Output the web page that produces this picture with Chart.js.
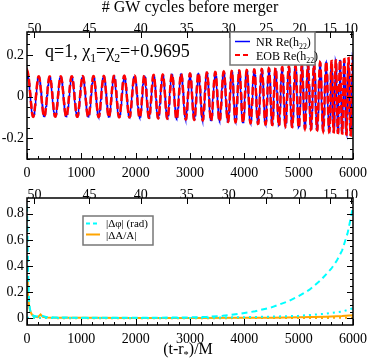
<!DOCTYPE html>
<html>
<head>
<meta charset="utf-8">
<script src="https://cdn.jsdelivr.net/npm/chart.js@4"></script>
<style>
  html, body { margin: 0; padding: 0; background: #fff; }
  #wrap { position: relative; width: 374px; height: 358px; }
  #top { position: absolute; left: 0; top: 0; }
  #bot { position: absolute; left: 0; top: 178px; }
</style>
</head>
<body>
<div id="wrap">
  <canvas id="top" width="374" height="178"></canvas>
  <canvas id="bot" width="374" height="180"></canvas>
</div>
<script>
// GW waveform NR vs EOB, q=1 spins +0.9695 - two stacked panels
const SERIF = "'Liberation Serif', 'Times New Roman', serif";

// top axis: # GW cycles before merger, placed at these times (M)
const cycleLabels = [50, 45, 40, 35, 30, 25, 20, 15, 10];
const cycleTimes  = [136, 1150, 2095, 2940, 3715, 4405, 5015, 5575, 5965];

// waveform envelope
const ampTimes  = [0, 1000, 2000, 3000, 4000, 4500, 5000, 5500, 5800, 6000];
const ampValues = [0.095, 0.097, 0.100, 0.110, 0.125, 0.135, 0.148, 0.165, 0.175, 0.185];
const phase0 = -0.39; // phase at t=0 (starts near a crest)

// bottom panel: |dphi| (rad), dashed cyan
const dphiT = [0, 8, 20, 35, 55, 80, 120, 180, 260, 350, 500, 800, 1200, 1800, 2400, 3000, 3300, 3600, 3900, 4200, 4500, 4800, 5000, 5200, 5400, 5600, 5700, 5800, 5900, 6000];
const dphiV = [0.86, 0.70, 0.35, 0.15, 0.07, 0.03, 0.02, 0.015, 0.022, 0.012, 0.008, 0.006, 0.005, 0.005, 0.006, 0.008, 0.012, 0.02, 0.035, 0.055, 0.085, 0.13, 0.17, 0.22, 0.29, 0.38, 0.44, 0.52, 0.65, 0.85];
// dotted cyan
const dphi2T = [0, 500, 1000, 2000, 3000, 3500, 4000, 4500, 5000, 5500, 5800, 6000];
const dphi2V = [0.006, 0.003, 0.003, 0.003, 0.004, 0.006, 0.010, 0.014, 0.020, 0.036, 0.052, 0.078];
// |dA/A|, solid orange
const dAT = [0, 8, 18, 30, 45, 65, 90, 130, 200, 250, 290, 350, 500, 1000, 2000, 3000, 4000, 4500, 5000, 5500, 5800, 6000];
const dAV = [0.22, 0.30, 0.20, 0.12, 0.08, 0.05, 0.03, 0.015, 0.01, 0.03, 0.012, 0.008, 0.006, 0.005, 0.004, 0.004, 0.005, 0.006, 0.009, 0.013, 0.018, 0.025];
// dotted orange
const dA2T = [0, 1000, 3000, 4500, 5500, 6000];
const dA2V = [0.003, 0.002, 0.002, 0.003, 0.004, 0.006];

const xMajor = [0, 1000, 2000, 3000, 4000, 5000, 6000];
const yTopTicks = [-0.2, 0, 0.2];
const yBotTicks = [0, 0.2, 0.4, 0.6, 0.8];

function interp(xs, ys, t) {
    if (t <= xs[0]) return ys[0];
    for (let i = 1; i < xs.length; i++) {
        if (t <= xs[i]) return ys[i-1] + (ys[i] - ys[i-1]) * (t - xs[i-1]) / (xs[i] - xs[i-1]);
    }
    return ys[ys.length - 1];
}
// cycles remaining, extrapolated with end slopes
function cyclesAt(t) {
    const n = cycleTimes.length;
    if (t < cycleTimes[0]) {
        const s = (cycleLabels[1] - cycleLabels[0]) / (cycleTimes[1] - cycleTimes[0]);
        return cycleLabels[0] + s * (t - cycleTimes[0]);
    }
    if (t > cycleTimes[n-1]) {
        const s = (cycleLabels[n-1] - cycleLabels[n-2]) / (cycleTimes[n-1] - cycleTimes[n-2]);
        return cycleLabels[n-1] + s * (t - cycleTimes[n-1]);
    }
    return interp(cycleTimes, cycleLabels, t);
}
const N0 = cyclesAt(0);
const phaseAt = t => 2 * Math.PI * (N0 - cyclesAt(t)) + phase0;

const tGrid = [];
for (let t = 0; t <= 6000; t += 3) tGrid.push(t);
const nrPts = tGrid.map(t => ({ x: t, y: interp(ampTimes, ampValues, t) * Math.cos(phaseAt(t)) }));
// EOB sits on top of NR at this scale; only the amplitude error is kept
const eobPts = tGrid.map(t => ({ x: t, y: interp(ampTimes, ampValues, t) * (1 + interp(dAT, dAV, t)) * Math.cos(phaseAt(t)) }));
const pts = (xs, ys) => xs.map((x, i) => ({ x: x, y: ys[i] }));

function range(a, b, step) { const r = []; for (let v = a; v <= b + 1e-9; v += step) r.push(+v.toFixed(6)); return r; }

// text with subscripts: parts = [[text, isSub], ...]
function rich(ctx, x, y, parts, size, measureOnly) {
    let cx = x;
    parts.forEach(([txt, sub]) => {
        ctx.font = (sub ? size * 0.65 : size) + 'px ' + SERIF;
        if (!measureOnly) ctx.fillText(txt, cx, sub ? y + size * 0.25 : y);
        cx += ctx.measureText(txt).width;
    });
    return cx - x;
}

// frame + inward ticks, xmgrace style
function frameTicks(spec) {
    return {
        id: 'frameTicks',
        afterDatasetsDraw(chart) {
            const ctx = chart.ctx, a = chart.chartArea;
            const xs = chart.scales.x, x2 = chart.scales.x2, ys = chart.scales.y;
            ctx.save();
            ctx.strokeStyle = '#000';
            ctx.lineWidth = 1;
            ctx.beginPath();
            const vt = (px, y0, len) => { ctx.moveTo(px, y0); ctx.lineTo(px, y0 + len); };
            const ht = (py, x0, len) => { ctx.moveTo(x0, py); ctx.lineTo(x0 + len, py); };
            xMajor.forEach(v => vt(Math.round(xs.getPixelForValue(v)) + 0.5, a.bottom, -6));
            range(0, 6000, 200).forEach(v => vt(Math.round(xs.getPixelForValue(v)) + 0.5, a.bottom, -3));
            cycleTimes.forEach(v => vt(Math.round(x2.getPixelForValue(v)) + 0.5, a.top, 6));
            spec.yMajor.forEach(v => { const p = Math.round(ys.getPixelForValue(v)) + 0.5; ht(p, a.left, 6); ht(p, a.right, -6); });
            spec.yMinor.forEach(v => { const p = Math.round(ys.getPixelForValue(v)) + 0.5; ht(p, a.left, 3); ht(p, a.right, -3); });
            ctx.stroke();
            ctx.lineWidth = 1.5;
            ctx.strokeRect(a.left, a.top, a.right - a.left, a.bottom - a.top);
            ctx.restore();
        }
    };
}

function baseScales(cfg) {
    const font = { family: SERIF, size: 14, lineHeight: 1 };
    const common = { grid: { display: false, drawTicks: false }, border: { display: false } };
    return {
        x: Object.assign({}, common, {
            type: 'linear', position: 'bottom', min: 0, max: 6000,
            ticks: { stepSize: 1000, padding: 7, color: '#000', font: font, maxRotation: 0, autoSkip: false, callback: v => String(v) },
            afterFit: s => { s.height = cfg.xH; }
        }),
        x2: Object.assign({}, common, {
            type: 'linear', position: 'top', min: 0, max: 6000,
            afterBuildTicks: s => { s.ticks = cycleTimes.map(v => ({ value: v })); },
            ticks: { padding: -4, color: '#000', font: font, maxRotation: 0, autoSkip: false, callback: (v, i) => String(cycleLabels[i]) },
            title: { display: cfg.x2Title, text: '# GW cycles before merger', color: '#000', font: { family: SERIF, size: 16, lineHeight: 1 }, padding: { top: 0, bottom: 0 } },
            afterFit: s => { s.height = cfg.x2H; }
        }),
        y: Object.assign({}, common, {
            type: 'linear', min: cfg.yMin, max: cfg.yMax,
            afterBuildTicks: s => { s.ticks = cfg.yTicks.map(v => ({ value: v })); },
            ticks: { padding: 3, color: '#000', font: font, callback: v => String(v) },
            afterFit: s => { s.width = 27; }
        })
    };
}

const topAnnot = {
    id: 'topAnnot',
    afterDraw(chart) {
        const ctx = chart.ctx;
        ctx.save();
        ctx.fillStyle = '#000';
        ctx.textAlign = 'left';
        ctx.textBaseline = 'alphabetic';
        rich(ctx, 45, 57, [['q=1, \u03c7', 0], ['1', 1], ['=\u03c7', 0], ['2', 1], ['=+0.9695', 0]], 18);
        // legend box
        ctx.fillStyle = '#fff';
        ctx.fillRect(230, 32, 85, 33);
        ctx.strokeStyle = '#777';
        ctx.lineWidth = 1.5;
        ctx.strokeRect(230, 32, 85, 33);
        ctx.lineWidth = 1.5;
        ctx.strokeStyle = '#0000ff';
        ctx.beginPath(); ctx.moveTo(235, 41.5); ctx.lineTo(250, 41.5); ctx.stroke();
        ctx.strokeStyle = '#ff0000';
        ctx.lineWidth = 2;
        ctx.setLineDash([5, 3]);
        ctx.beginPath(); ctx.moveTo(235, 55); ctx.lineTo(251, 55); ctx.stroke();
        ctx.setLineDash([]);
        ctx.fillStyle = '#000';
        rich(ctx, 256, 46, [['NR Re(h', 0], ['22', 1], [')', 0]], 12);
        rich(ctx, 256, 59.5, [['EOB Re(h', 0], ['22', 1], [')', 0]], 12);
        ctx.restore();
    }
};

const botAnnot = {
    id: 'botAnnot',
    afterDraw(chart) {
        const ctx = chart.ctx;
        ctx.save();
        ctx.textAlign = 'left';
        ctx.textBaseline = 'alphabetic';
        ctx.fillStyle = '#fff';
        ctx.fillRect(83, 38, 70, 29);
        ctx.strokeStyle = '#777';
        ctx.lineWidth = 1.5;
        ctx.strokeRect(83, 38, 70, 29);
        ctx.lineWidth = 2;
        ctx.strokeStyle = '#00ffff';
        ctx.setLineDash([4, 3]);
        ctx.beginPath(); ctx.moveTo(86, 45.5); ctx.lineTo(100, 45.5); ctx.stroke();
        ctx.setLineDash([]);
        ctx.strokeStyle = '#ffa500';
        ctx.beginPath(); ctx.moveTo(86, 56.5); ctx.lineTo(100, 56.5); ctx.stroke();
        ctx.fillStyle = '#000';
        ctx.font = '11px ' + SERIF;
        ctx.fillText('|\u0394\u03c6| (rad)', 106, 49);
        ctx.fillText('|\u0394A/A|', 106, 60.5);
        // x axis title with subscript
        const parts = [['(t-r', 0], ['*', 1], [')/M', 0]];
        const w = rich(ctx, 0, 0, parts, 16, true);
        rich(ctx, 188 - w / 2, 176, parts, 16);
        ctx.restore();
    }
};

const lineDs = (label, data, color, width, dash) => ({
    label: label, data: data, borderColor: color, borderWidth: width, borderDash: dash || [],
    pointRadius: 0, fill: false, tension: 0
});

const common = { responsive: false, devicePixelRatio: 1, animation: false, parsing: false, normalized: true,
    plugins: { legend: { display: false }, tooltip: { enabled: false } } };

// Chart.js paints the first dataset last, so EOB (red dashes) goes first to sit on top of NR
new Chart(document.getElementById('top'), {
    type: 'line',
    data: { datasets: [
        lineDs('EOB Re(h22)', eobPts, '#ff0000', 2.5, [8, 3]),
        lineDs('NR Re(h22)', nrPts, '#0000ff', 1.5)
    ] },
    options: Object.assign({}, common, {
        layout: { padding: { left: 0, right: 16, top: 0, bottom: 0 } },
        scales: baseScales({ xH: 19, x2H: 32, x2Title: true, yMin: -0.3, yMax: 0.31, yTicks: yTopTicks })
    }),
    plugins: [frameTicks({ yMajor: yTopTicks, yMinor: range(-0.3, 0.3, 0.05) }), topAnnot]
});

new Chart(document.getElementById('bot'), {
    type: 'line',
    data: { datasets: [
        lineDs('|dphi| (rad)', pts(dphiT, dphiV), '#00ffff', 2, [6, 4]),
        lineDs('|dphi| dotted', pts(dphi2T, dphi2V), '#00ffff', 2, [2, 4]),
        lineDs('|dA/A|', pts(dAT, dAV), '#ffa500', 2),
        lineDs('|dA/A| dotted', pts(dA2T, dA2V), '#ffa500', 2, [2, 4])
    ] },
    options: Object.assign({}, common, {
        layout: { padding: { left: 0, right: 16, top: 0, bottom: 0 } },
        scales: baseScales({ xH: 33, x2H: 20, x2Title: false, yMin: -0.05, yMax: 0.92, yTicks: yBotTicks })
    }),
    plugins: [frameTicks({ yMajor: yBotTicks, yMinor: range(0, 0.9, 0.05) }), botAnnot]
});
</script>
</body>
</html>
